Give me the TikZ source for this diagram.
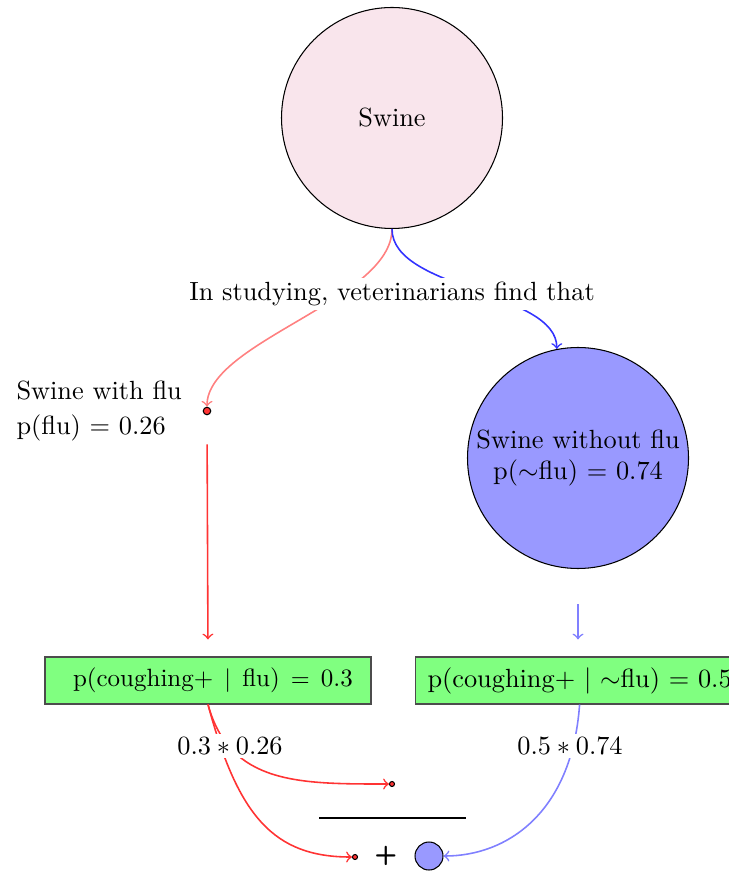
\documentclass[tikz,border=0pt]{standalone}
\usetikzlibrary{arrows}
\begin{document}
\begin{tikzpicture}[x=0.38pt,y=-0.38pt,
  bigcirc/.style={circle,draw=black,minimum size=221*0.38pt,inner sep=0pt,align=center},
  dotnode/.style={circle,draw=black,fill=red!80,minimum size=#1*0.38pt,inner sep=0pt},
  probbox/.style={rectangle,draw=black!70,fill=green!50,minimum height=47*0.38pt},
  lbl/.style={fill=white,inner sep=1.5pt},
  conn/.style={semithick,->},
]
\useasboundingbox (0,0) rectangle (728,873);
% nodes
\node[bigcirc,fill=purple!10] (swine) at (392,118) {Swine};
\node[bigcirc,fill=blue!40] (noflu) at (578,458) {Swine without flu\\p($\sim$flu) $=$ 0.74};
\node[dotnode=7.5] (d1) at (207,411) {};
\node[anchor=west,align=left,inner sep=0pt] (withflu) at (16,411) {Swine with flu\\[1pt]p(flu) $=$ 0.26};
\node[probbox,minimum width=326*0.38pt,font=\fontsize{9.5}{11}\selectfont] (b1) at (208,680.5) {\makebox[102.6pt][s]{p(coughing+ \ $\mid$ \ flu) \ $=$ \ 0.3}};
\node[probbox,anchor=west,inner xsep=12*0.38pt] (b2) at (415,680.5) {p(coughing+ $\mid$ $\sim$flu) $=$ 0.5};
\node[dotnode=5] (d2) at (392,784) {};
\node[dotnode=5] (d3) at (355,857) {};
\node[circle,draw=black,fill=blue!40,minimum size=28*0.38pt,inner sep=0pt] (bc) at (429,856) {};
\node[inner sep=0pt] (plus) at (386,856) {\sffamily\bfseries +};
\coordinate (hl) at (319,818);
\coordinate (hr) at (466,818);
% connectors
\draw[conn,red!50] (swine.south) .. controls +(0,71) and +(0,-65) .. (d1.north);
\draw[conn,blue!80] (swine.south) .. controls +(0,61) and +(0,-58) .. (noflu.101);
\node[lbl] (study) at (392,294) {In studying, veterinarians find that};
\draw[conn,red!80,shorten <=29*0.38pt,shorten >=17*0.38pt] (d1.south) -- (b1.north);
\draw[conn,blue!50,shorten <=35*0.38pt,shorten >=17*0.38pt] (noflu.south) -- (noflu.south |- b2.north);
\draw[conn,red!80] (b1.south) .. controls +(22,80) and +(-90,0) .. (d2.west);
\draw[conn,red!80] (b1.south) .. controls +(30,112) and +(-78,0) .. (d3.west);
\draw[conn,blue!50] (b2.south) .. controls +(-8,110) and +(62,0) .. (bc.east);
\node[lbl] (m1) at (230,746) {$0.3 * 0.26$};
\node[lbl] (m2) at (570,746) {$0.5 * 0.74$};
\draw[thick] (hl) -- (hr);
\end{tikzpicture}
\end{document}
